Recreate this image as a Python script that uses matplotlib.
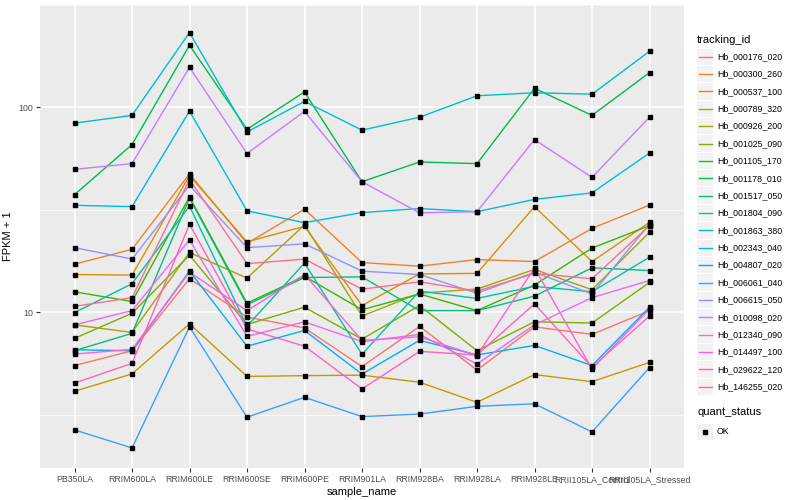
import matplotlib
matplotlib.use('Agg')
import matplotlib.pyplot as plt
from matplotlib.lines import Line2D
from matplotlib.patches import Rectangle
import numpy as np

plt.rcParams['font.family'] = ['Liberation Sans', 'DejaVu Sans']

# x categories
samples = ['PB350LA', 'RRIM600LA', 'RRIM600LE', 'RRIM600SE', 'RRIM600PE', 'RRIM901LA',
           'RRIM928BA', 'RRIM928LA', 'RRIM928LE', 'RRII105LA_Control', 'RRII105LA_Stressed']

tracking_ids = ['Hb_000176_020', 'Hb_000300_260', 'Hb_000537_100', 'Hb_000789_320',
                'Hb_000926_200', 'Hb_001025_090', 'Hb_001105_170', 'Hb_001178_010',
                'Hb_001517_050', 'Hb_001804_090', 'Hb_001863_380', 'Hb_002343_040',
                'Hb_004807_020', 'Hb_006061_040', 'Hb_006615_050', 'Hb_010098_020',
                'Hb_012340_090', 'Hb_014497_100', 'Hb_029622_120', 'Hb_146255_020']

# FPKM + 1 per gene, one value per sample
hb_000176_020 = [5.5, 6.5, 14.6, 9.49, 8.4, 5.44, 8.54, 5.23, 8.5, 7.81, 10.2]
hb_000300_260 = [17.2, 20.3, 47.4, 21.7, 31.9, 17.5, 16.8, 18.1, 17.7, 25.7, 33.4]
hb_000537_100 = [15.3, 15.2, 46.5, 22.1, 26.3, 10.8, 15.4, 15.5, 32.8, 17.7, 27.5]
hb_000789_320 = [4.12, 5.01, 8.79, 4.87, 4.91, 4.94, 4.56, 3.64, 4.97, 4.59, 5.70]
hb_000926_200 = [8.69, 7.98, 19.6, 14.7, 26.7, 9.6, 12.4, 13.0, 16.2, 12.9, 24.6]
hb_001025_090 = [7.47, 9.9, 19.0, 8.73, 10.6, 7.4, 10.8, 6.5, 9.0, 8.87, 14.0]
hb_001105_170 = [12.6, 11.3, 36.6, 11.1, 15.0, 10.3, 12.3, 10.2, 13.6, 20.6, 26.5]
hb_001178_010 = [37.5, 65.9, 201, 78.3, 119, 43.4, 54.2, 53.2, 124, 91.5, 148]
hb_001517_050 = [6.5, 7.9, 36.1, 10.9, 14.8, 14.9, 10.2, 10.2, 12.0, 16.5, 16.0]
hb_001804_090 = [9.97, 13.8, 33.0, 8.57, 17.4, 6.24, 12.7, 11.7, 13.4, 12.6, 18.6]
hb_001863_380 = [83.8, 91.5, 232, 75.9, 107, 77.5, 89.6, 114, 118, 116, 188]
hb_002343_040 = [33.3, 32.8, 96, 31.3, 27.4, 30.7, 32.1, 31.0, 35.6, 38.3, 59.9]
hb_004807_020 = [6.57, 6.5, 15.9, 6.84, 8.16, 5.0, 7.3, 6.2, 6.9, 5.5, 10.6]
hb_006061_040 = [2.67, 2.18, 8.5, 3.08, 3.85, 3.10, 3.19, 3.48, 3.58, 2.61, 5.38]
hb_006615_050 = [20.7, 18.2, 41.7, 20.7, 21.6, 15.9, 15.3, 12.4, 15.7, 12.3, 27.0]
hb_010098_020 = [49.9, 53.2, 157, 59.6, 95.7, 43.4, 30.6, 31.0, 69.7, 45.6, 89.6]
hb_012340_090 = [8.69, 10.2, 22.6, 7.64, 8.99, 7.2, 7.8, 5.6, 8.7, 11.8, 14.3]
hb_014497_100 = [6.26, 6.6, 15.7, 10.2, 15.3, 7.3, 7.6, 6.15, 16.5, 5.3, 10.4]
hb_029622_120 = [4.52, 5.64, 26.9, 8.3, 6.84, 4.23, 6.45, 6.2, 11.0, 5.4, 9.6]
hb_146255_020 = [10.7, 11.8, 44.5, 17.3, 18.2, 12.98, 14.1, 12.7, 15.5, 14.6, 26.5]

series = [hb_000176_020, hb_000300_260, hb_000537_100, hb_000789_320, hb_000926_200,
          hb_001025_090, hb_001105_170, hb_001178_010, hb_001517_050, hb_001804_090,
          hb_001863_380, hb_002343_040, hb_004807_020, hb_006061_040, hb_006615_050,
          hb_010098_020, hb_012340_090, hb_014497_100, hb_029622_120, hb_146255_020]

# ggplot hue palette for 20 levels
colors = ['#F8766D', '#EA8331', '#D89000', '#C09B00', '#A3A500', '#7CAE00', '#39B600',
          '#00BB4E', '#00BF7D', '#00C1A3', '#00BFC4', '#00BAE0', '#00B0F6', '#35A2FF',
          '#9590FF', '#C77CFF', '#E76BF3', '#FA62DB', '#FF62BC', '#FF6C91']

fig = plt.figure(figsize=(8, 5), dpi=100)
ax = fig.add_axes([40 / 800, 1 - 468 / 500, 644 / 800, 463 / 500])
ax.set_facecolor('#EBEBEB')

x = np.arange(len(samples))
for vals, c in zip(series, colors):
    ax.plot(x, vals, color=c, lw=1.0, zorder=3)
for vals in series:
    ax.plot(x, vals, ls='none', marker='s', ms=3, color='black', zorder=4)

ax.set_yscale('log')
ax.set_ylim(1.74, 292)
ax.set_xlim(-0.6, len(samples) - 0.4)

ax.set_yticks([10, 100])
ax.set_yticklabels(['10', '100'])
ax.set_yticks([10 ** 0.5, 10 ** 1.5, 10 ** 2.5], minor=True)
ax.yaxis.set_minor_formatter(plt.NullFormatter())
ax.set_xticks(x)
ax.set_xticklabels(samples)

ax.grid(True, which='major', color='white', lw=1.1, zorder=0)
ax.grid(True, which='minor', axis='y', color='white', lw=0.5, zorder=0)
ax.set_axisbelow(True)
for s in ax.spines.values():
    s.set_visible(False)
ax.tick_params(axis='both', which='major', length=3, width=0.8, color='#333333',
               labelsize=6.3, labelcolor='#4D4D4D', pad=2)
ax.tick_params(axis='y', which='minor', length=0)

ax.set_xlabel('sample_name', fontsize=8, color='black', labelpad=2)
ax.set_ylabel('FPKM + 1', fontsize=8, color='black', labelpad=4)

# legend drawn by hand, ggplot style
fig.text(697 / 800, 1 - 40 / 500, 'tracking_id', fontsize=8, va='center', ha='left')
step = 17.37
for i, (name, c) in enumerate(zip(tracking_ids, colors)):
    yc = 56.7 + i * step
    fig.patches.append(Rectangle((697 / 800, 1 - (yc + step / 2 - 0.5) / 500), 16 / 800,
                                 (step - 1) / 500, transform=fig.transFigure,
                                 facecolor='#F2F2F2', edgecolor='none'))
    fig.lines.append(Line2D([698.5 / 800, 711.5 / 800], [1 - yc / 500, 1 - yc / 500],
                            transform=fig.transFigure, color=c, lw=1.0))
    fig.text(717 / 800, 1 - yc / 500, name, fontsize=6.3, va='center', ha='left')

fig.text(697 / 800, 1 - 412 / 500, 'quant_status', fontsize=8, va='center', ha='left')
yc = 432
fig.patches.append(Rectangle((697 / 800, 1 - (yc + 8.2) / 500), 16 / 800, 16.4 / 500,
                             transform=fig.transFigure, facecolor='#F2F2F2', edgecolor='none'))
fig.lines.append(Line2D([705 / 800], [1 - yc / 500], transform=fig.transFigure,
                        marker='s', ms=3, color='black', ls='none'))
fig.text(717 / 800, 1 - yc / 500, 'OK', fontsize=6.3, va='center', ha='left')

fig.savefig('out.png', dpi=100)
